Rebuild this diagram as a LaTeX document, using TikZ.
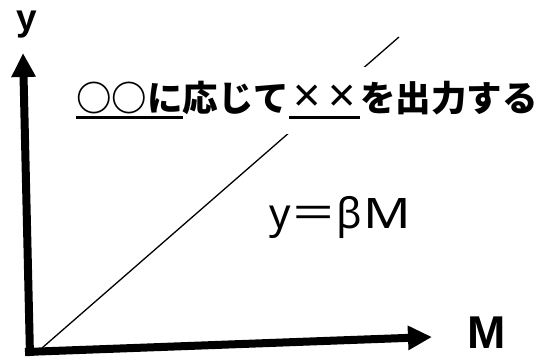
\documentclass[tikz,border=0pt]{standalone}
\usepackage{fontspec}
\usepackage{graphicx}
\usetikzlibrary{arrows.meta}
\newfontfamily\cjk{Noto Sans CJK JP}
\newfontfamily\labf{Liberation Sans}
\newfontfamily\eqf{Noto Sans}
\newcommand\myul[1]{\leavevmode\setbox0\hbox{#1}\rlap{\rule[-7.2pt]{\wd0}{3pt}}\box0}
\newcommand\fw[1]{\makebox[1em][c]{#1}}
\newcommand\bx{\fw{\raisebox{-1pt}{\scalebox{1.35}{\eqf\bfseries ×}}}}
\begin{document}
\begin{tikzpicture}[x=1pt,y=-1pt,
  axis/.style={line width=8pt,-{Triangle[length=24pt,width=23pt]}},
  diag/.style={line width=1.3pt},
  axislabel/.style={inner sep=0pt,font=\labf\bfseries}]
\useasboundingbox[fill=white] (0,0) rectangle (539,361);
\coordinate (o1) at (30,356);
\coordinate (o2) at (25,352);
\coordinate (ytip) at (23,53);
\coordinate (xtip) at (432,337);
\coordinate (d1) at (42,348);
\coordinate (d2) at (399,37);
\draw[axis] (o1) -- (ytip);
\draw[axis] (o2) -- (xtip);
\draw[diag] (d1) -- (d2);
\node[axislabel,anchor=base,font=\labf\bfseries\fontsize{37}{40}\selectfont] (ylab) at (27,31) {y};
\node[axislabel,anchor=base west,font=\labf\bfseries\fontsize{46}{50}\selectfont] (mlab) at (467,348) {M};
\node[fill=white,inner xsep=3pt,inner ysep=14.5pt,anchor=base west,font=\cjk\bfseries\fontsize{35.5}{40}\selectfont] (title) at (73,112)
  {\myul{\fw{○}\fw{○}に}応じて\myul{\bx\bx}を出力する};
\node[inner sep=0pt,anchor=base west,font=\fontsize{42}{46}\selectfont] (eq) at (269,228)
  {{\eqf y}{\cjk\scalebox{1.1}[1]{＝}}{\eqf β}\hspace{1pt}{\eqf\scalebox{1.25}[1]{M}}};
\end{tikzpicture}
\end{document}
